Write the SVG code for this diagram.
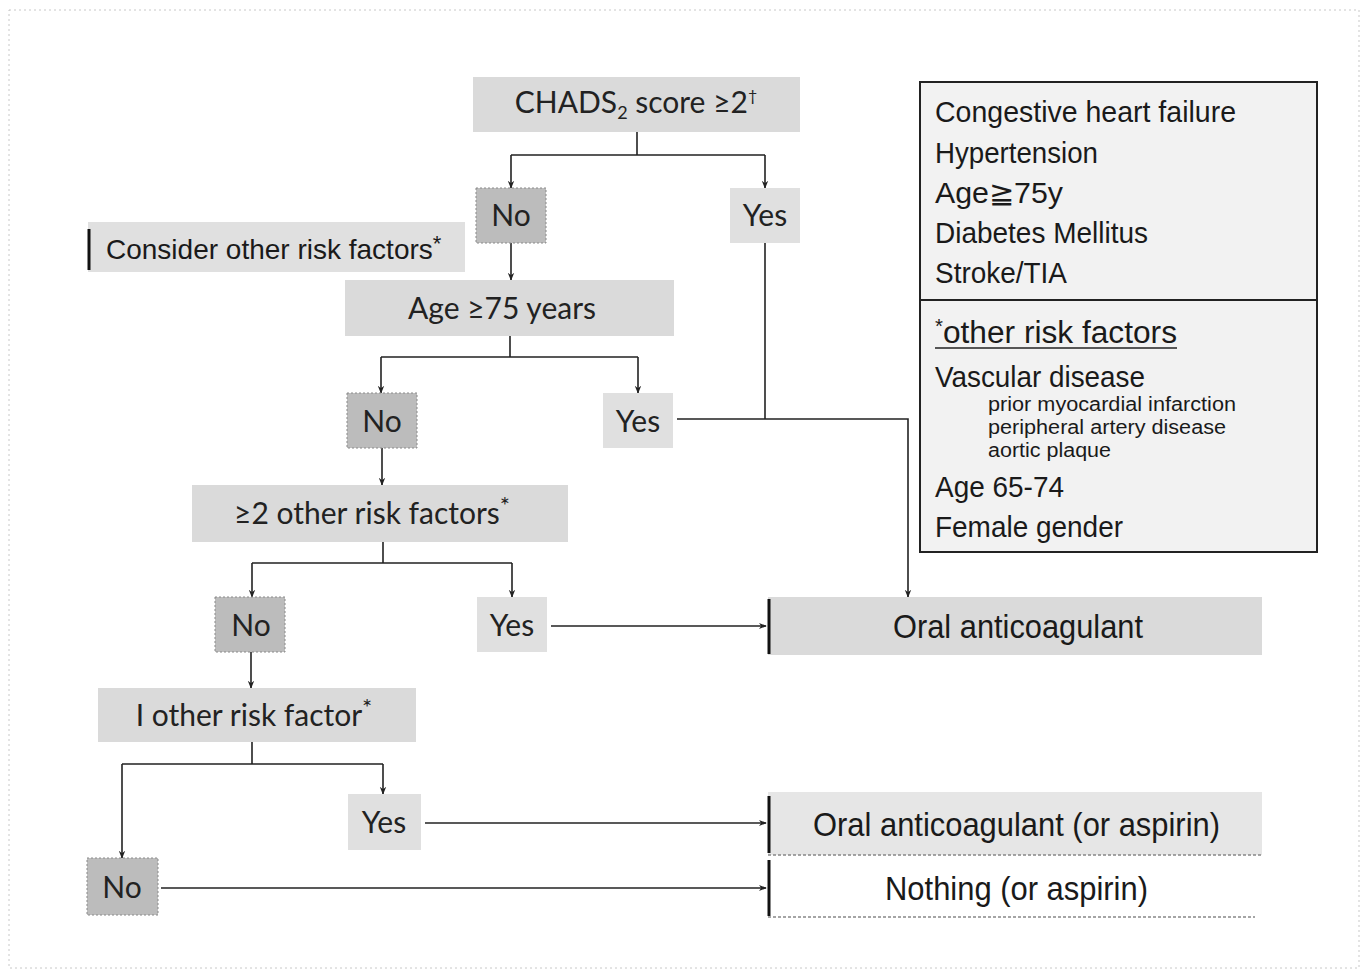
<svg xmlns="http://www.w3.org/2000/svg" width="1366" height="973" viewBox="0 0 1366 973">
<style>
.bl{fill:#dadada}
.bd{fill:#bcbcbc;stroke:#8a8a8a;stroke-width:1;stroke-dasharray:2 2}
.bm{fill:#e0e0e0}
.t{font-family:Lato,"Open Sans","Liberation Sans",sans-serif;font-size:30px;fill:#222;text-anchor:middle}
.n{font-family:"Liberation Sans Narrow","Liberation Sans",sans-serif;fill:#1a1a1a}
.c{fill:none;stroke:#222;stroke-width:1.6}
.bar{stroke:#111;stroke-width:3}
</style>
<defs>
<marker id="a" viewBox="0 0 10 10" refX="9" refY="5" markerWidth="8" markerHeight="8" orient="auto" markerUnits="userSpaceOnUse">
<path d="M0,1 L10,5 L0,9 L3,5 Z" fill="#222"/>
</marker>
</defs>
<rect x="0" y="0" width="1366" height="973" fill="#fff"/>
<rect x="9" y="10" width="1350" height="958" fill="none" stroke="#c8c8c8" stroke-width="1" stroke-dasharray="2 3"/>

<g id="connectors">
<path class="c" d="M637,132 V155 M511,155 H765" />
<path class="c" d="M511,155 V188" marker-end="url(#a)"/>
<path class="c" d="M765,155 V188" marker-end="url(#a)"/>
<path class="c" d="M511,243 V280" marker-end="url(#a)"/>
<path class="c" d="M765,243 V419"/>
<path class="c" d="M677,419 H908 V597" marker-end="url(#a)"/>
<path class="c" d="M510,336 V357 M381,357 H638"/>
<path class="c" d="M381,357 V393" marker-end="url(#a)"/>
<path class="c" d="M638,357 V393" marker-end="url(#a)"/>
<path class="c" d="M382,448 V485" marker-end="url(#a)"/>
<path class="c" d="M383,542 V563 M252,563 H512"/>
<path class="c" d="M252,563 V597" marker-end="url(#a)"/>
<path class="c" d="M512,563 V597" marker-end="url(#a)"/>
<path class="c" d="M551,626 H766" marker-end="url(#a)"/>
<path class="c" d="M251,652 V688" marker-end="url(#a)"/>
<path class="c" d="M252,742 V764 M122,764 H383"/>
<path class="c" d="M383,764 V794" marker-end="url(#a)"/>
<path class="c" d="M122,764 V858" marker-end="url(#a)"/>
<path class="c" d="M425,823 H766" marker-end="url(#a)"/>
<path class="c" d="M161,888 H766" marker-end="url(#a)"/>
</g>

<g id="chads">
<rect class="bl" x="473" y="77" width="327" height="55"/>
<text class="t" x="636" y="113">CHADS<tspan font-size="18" dy="6">2</tspan><tspan dy="-6"> score ≥2</tspan><tspan font-size="16" dy="-12">†</tspan></text>
</g>
<g id="no1">
<rect class="bd" x="476" y="188" width="70" height="55"/>
<text class="t" x="511" y="226">No</text>
</g>
<g id="yes1">
<rect class="bm" x="730" y="188" width="70" height="55"/>
<text class="t" x="765" y="226">Yes</text>
</g>
<g id="consider">
<rect class="bm" x="88" y="222" width="377" height="50"/>
<line class="bar" x1="89" y1="229" x2="89" y2="270"/>
<text class="n" x="106" y="259" font-size="28">Consider other risk factors<tspan font-size="22" dy="-8">*</tspan></text>
</g>
<g id="age75">
<rect class="bl" x="345" y="280" width="329" height="56"/>
<text class="t" x="502" y="319">Age ≥75 years</text>
</g>
<g id="no2">
<rect class="bd" x="347" y="393" width="70" height="55"/>
<text class="t" x="382" y="432">No</text>
</g>
<g id="yes2">
<rect class="bm" x="603" y="393" width="70" height="55"/>
<text class="t" x="638" y="432">Yes</text>
</g>
<g id="ge2">
<rect class="bl" x="192" y="485" width="376" height="57"/>
<text class="t" x="372" y="524">≥2 other risk factors<tspan font-size="24" dy="-10">*</tspan></text>
</g>
<g id="no3">
<rect class="bd" x="215" y="597" width="70" height="55"/>
<text class="t" x="251" y="636">No</text>
</g>
<g id="yes3">
<rect class="bm" x="477" y="597" width="70" height="55"/>
<text class="t" x="512" y="636">Yes</text>
</g>
<g id="oac">
<rect class="bl" x="768" y="597" width="494" height="58"/>
<line class="bar" x1="769" y1="599" x2="769" y2="654"/>
<text class="n" x="893" y="638" font-size="33" textLength="250" lengthAdjust="spacingAndGlyphs">Oral anticoagulant</text>
</g>
<g id="one">
<rect class="bl" x="98" y="688" width="318" height="54"/>
<text class="t" x="254" y="726">I other risk factor<tspan font-size="24" dy="-10">*</tspan></text>
</g>
<g id="yes4">
<rect class="bm" x="348" y="794" width="73" height="56"/>
<text class="t" x="384" y="833">Yes</text>
</g>
<g id="no4">
<rect class="bd" x="87" y="858" width="71" height="57"/>
<text class="t" x="122" y="898">No</text>
</g>
<g id="oacasp">
<rect fill="#e6e6e6" x="768" y="792" width="494" height="63"/>
<line x1="768" y1="855" x2="1262" y2="855" stroke="#888" stroke-width="1.5" stroke-dasharray="3 2"/>
<line class="bar" x1="769" y1="796" x2="769" y2="853"/>
<text class="n" x="813" y="836" font-size="33" textLength="407" lengthAdjust="spacingAndGlyphs">Oral anticoagulant (or aspirin)</text>
</g>
<g id="nothing">
<rect fill="#fff" x="768" y="858" width="487" height="59"/>
<line x1="768" y1="917" x2="1255" y2="917" stroke="#888" stroke-width="1.5" stroke-dasharray="3 2"/>
<line class="bar" x1="769" y1="860" x2="769" y2="916"/>
<text class="n" x="885" y="900" font-size="33" textLength="263" lengthAdjust="spacingAndGlyphs">Nothing (or aspirin)</text>
</g>
<g id="legend">
<rect x="920" y="82" width="397" height="470" fill="#f2f2f2" stroke="#222" stroke-width="2"/>
<line x1="920" y1="300" x2="1317" y2="300" stroke="#222" stroke-width="2"/>
<text class="n" x="935" y="122" font-size="29" textLength="301" lengthAdjust="spacingAndGlyphs">Congestive  heart failure</text>
<text class="n" x="935" y="163" font-size="29" textLength="163" lengthAdjust="spacingAndGlyphs">Hypertension</text>
<text class="n" x="935" y="203" font-size="29" textLength="128" lengthAdjust="spacingAndGlyphs">Age≧75y</text>
<text class="n" x="935" y="243" font-size="29" textLength="213" lengthAdjust="spacingAndGlyphs">Diabetes Mellitus</text>
<text class="n" x="935" y="283" font-size="29" textLength="132" lengthAdjust="spacingAndGlyphs">Stroke/TIA</text>
<text class="n" x="935" y="343" font-size="31" textLength="242" lengthAdjust="spacingAndGlyphs"><tspan font-size="20" dy="-10">*</tspan><tspan dy="10">other risk factors</tspan></text>
<line x1="935" y1="348" x2="1177" y2="348" stroke="#222" stroke-width="1.5"/>
<text class="n" x="935" y="387" font-size="30" textLength="210" lengthAdjust="spacingAndGlyphs">Vascular disease</text>
<text class="n" x="988" y="411" font-size="20" textLength="248" lengthAdjust="spacingAndGlyphs">prior myocardial infarction</text>
<text class="n" x="988" y="434" font-size="20" textLength="238" lengthAdjust="spacingAndGlyphs">peripheral artery disease</text>
<text class="n" x="988" y="457" font-size="20" textLength="123" lengthAdjust="spacingAndGlyphs">aortic plaque</text>
<text class="n" x="935" y="497" font-size="29" textLength="129" lengthAdjust="spacingAndGlyphs">Age 65-74</text>
<text class="n" x="935" y="537" font-size="29" textLength="188" lengthAdjust="spacingAndGlyphs">Female gender</text>
</g>
</svg>
